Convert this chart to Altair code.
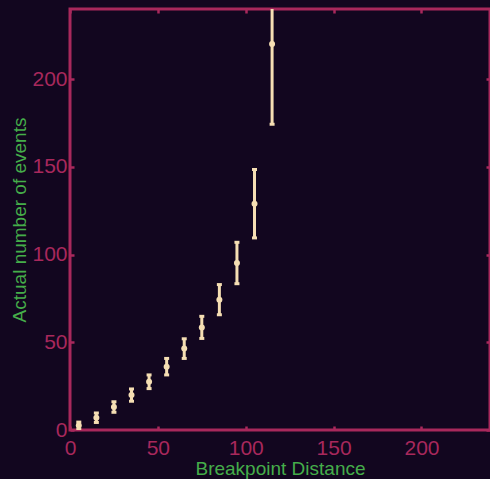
import altair as alt
import pandas as pd

# Data
distance = [5, 15, 25, 35, 45, 55, 65, 75, 85, 95, 105, 115]
events = [2.5, 7.0, 13.1, 19.9, 27.5, 36.1, 46.4, 58.5, 74.3, 95.2, 129.0, 220.0]
error = [2.0, 2.7, 3.0, 3.5, 3.9, 4.7, 5.6, 6.3, 8.6, 11.8, 19.5, 45.7]
tick_values = [0, 50, 100, 150, 200]

df = pd.DataFrame({"distance": distance, "events": events, "err": error})
df["lo"] = df["events"] - df["err"]
df["hi"] = df["events"] + df["err"]

BG = "#12061f"
AX = "#a8285c"
GREEN = "#45ad4a"
MARK = "#f5deb3"
FONT = "Liberation Sans"

xdom = [0, 239]
ydom = [0, 240]

xs = alt.Scale(domain=xdom, nice=False, zero=False)
ys = alt.Scale(domain=ydom, nice=False, zero=False)

x_axis = alt.Axis(
    orient="bottom", values=tick_values, domain=False, grid=False,
    tickSize=4, offset=-4, tickWidth=2.5, tickColor=AX, labelFlush=False,
    labelColor=AX, labelFont=FONT, labelFontSize=21, labelPadding=7,
    title="Breakpoint Distance", titleColor=GREEN, titleFont=FONT,
    titleFontSize=19, titleFontWeight="normal", titleBaseline="alphabetic",
    titleY=48,
)
y_axis = alt.Axis(
    orient="left", values=tick_values, domain=False, grid=False,
    tickSize=4, offset=-4, tickWidth=2.5, tickColor=AX, labelFlush=False,
    labelColor=AX, labelFont=FONT, labelFontSize=21, labelPadding=3,
    title="Actual number of events", titleColor=GREEN, titleFont=FONT,
    titleFontSize=19, titleFontWeight="normal", titleBaseline="alphabetic",
    titleAngle=-90, titleX=-49,
)

rules = alt.Chart(df).mark_rule(color=MARK, strokeWidth=3, clip=True).encode(
    x=alt.X("distance:Q", scale=xs, axis=x_axis),
    y=alt.Y("lo:Q", scale=ys, axis=y_axis),
    y2="hi:Q",
)
caps_lo = alt.Chart(df).mark_tick(
    color=MARK, size=5, thickness=3, orient="horizontal", clip=True, opacity=1
).encode(x=alt.X("distance:Q", scale=xs), y=alt.Y("lo:Q", scale=ys))
caps_hi = alt.Chart(df).mark_tick(
    color=MARK, size=5, thickness=3, orient="horizontal", clip=True, opacity=1
).encode(x=alt.X("distance:Q", scale=xs), y=alt.Y("hi:Q", scale=ys))
points = alt.Chart(df).mark_point(
    shape="circle", filled=True, size=36, color=MARK, opacity=1, clip=True
).encode(x=alt.X("distance:Q", scale=xs), y=alt.Y("events:Q", scale=ys))

main = alt.layer(rules, caps_lo, caps_hi, points)

mirror = alt.Chart(df).mark_point(opacity=0).encode(
    x=alt.X("distance:Q", scale=xs, axis=alt.Axis(
        orient="top", values=tick_values, domain=False, grid=False,
        labels=False, tickSize=4, offset=-4, tickWidth=2.5, tickColor=AX, title=None)),
    y=alt.Y("events:Q", scale=ys, axis=alt.Axis(
        orient="right", values=tick_values, domain=False, grid=False,
        labels=False, tickSize=4, offset=-4, tickWidth=2.5, tickColor=AX, title=None)),
)

chart = alt.layer(main, mirror).resolve_scale(
    x="independent", y="independent"
).properties(
    width=420, height=421,
    autosize=alt.AutoSizeParams(type="none"),
    padding={"left": 70, "top": 9, "right": 0, "bottom": 49},
    background=BG,
).configure_view(
    stroke=AX, strokeWidth=3, fill=BG,
)

chart.save("out.html", embed_options={"renderer": "svg", "actions": False})
